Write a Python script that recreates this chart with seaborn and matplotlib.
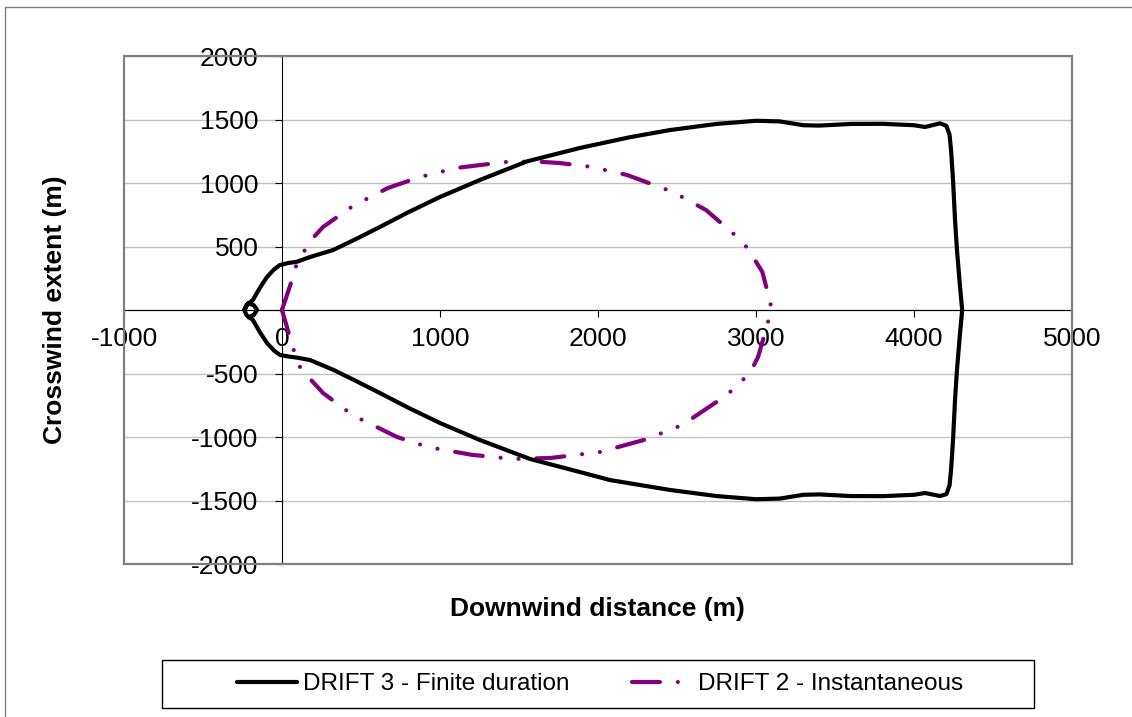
import matplotlib
matplotlib.use("Agg")
import matplotlib.pyplot as plt
import pandas as pd
import seaborn as sns
from matplotlib.patches import Rectangle
from matplotlib.lines import Line2D

# ---------------- data ----------------
series_names = ["DRIFT 3 - Finite duration", "DRIFT 2 - Instantaneous"]
series_colors = ["#000000", "#800080"]

# DRIFT 3 upper edge (from upwind tip to downwind end)
drift3_upper_x = [-238, -225, -184, -140, -95, -50, -13, 40, 95, 177, 323, 470, 620, 800, 1000, 1253, 1550,
                  1886, 2200, 2456, 2750, 3000, 3150, 3300, 3400, 3600, 3800, 4000, 4070, 4165, 4205, 4225,
                  4235, 4247, 4260, 4272, 4290, 4305]
drift3_upper_y = [0, 40, 79, 175, 260, 320, 354, 370, 380, 417, 472, 560, 654, 770, 890, 1024, 1170,
                  1276, 1360, 1417, 1465, 1490, 1485, 1455, 1452, 1465, 1466, 1455, 1441, 1470, 1450, 1380,
                  1250, 1024, 700, 472, 200, 0]
# DRIFT 3 lower edge (from upwind tip to downwind end)
drift3_lower_x = [-238, -225, -184, -140, -95, -50, -13, 40, 95, 177, 323, 470, 620, 800, 1000, 1253, 1570,
                  1886, 2076, 2456, 2750, 3000, 3150, 3300, 3400, 3600, 3800, 4000, 4070, 4165, 4205, 4225,
                  4235, 4247, 4260, 4272, 4290, 4305]
drift3_lower_y = [0, -40, -79, -175, -260, -320, -354, -366, -375, -394, -470, -560, -654, -770, -890, -1024, -1173,
                  -1276, -1339, -1417, -1465, -1490, -1485, -1455, -1452, -1465, -1466, -1455, -1441, -1465, -1450, -1380,
                  -1250, -1024, -700, -472, -200, 0]
# small loop at the upwind tip of DRIFT 3
drift3_loop_x = [-215, -178, -158, -178, -210]
drift3_loop_y = [52, 38, 0, -38, -58]

# DRIFT 2 upper edge
drift2_upper_x = [0, 63, 95, 184, 260, 450, 671, 873, 1101, 1411, 1600, 1759, 1962, 2184, 2475,
                  2684, 2918, 2975, 3040, 3070, 3101]
drift2_upper_y = [0, 236, 370, 551, 654, 820, 961, 1047, 1118, 1165, 1170, 1157, 1126, 1063, 929,
                  787, 535, 430, 300, 157, 0]
# DRIFT 2 lower edge
drift2_lower_x = [0, 70, 114, 184, 260, 450, 728, 924, 1200, 1462, 1700, 2013, 2300, 2532, 2816,
                  2962, 3013, 3044, 3076, 3101]
drift2_lower_y = [0, -300, -449, -551, -654, -830, -1000, -1079, -1140, -1173, -1165, -1118, -1020, -906, -669,
                  -496, -370, -236, -94, 0]

x_ticks = [-1000, 0, 1000, 2000, 3000, 4000, 5000]
y_ticks = [-2000, -1500, -1000, -500, 0, 500, 1000, 1500, 2000]
y_tick_labels = ["-2000", "-1500", "-1000", "-500", "", "500", "1000", "1500", "2000"]
x_label = "Downwind distance (m)"
y_label = "Crosswind extent (m)"

# ---------------- style ----------------
sns.set_theme(style="white")
plt.rcParams["font.family"] = ["Liberation Sans", "DejaVu Sans"]

W, H = 1132, 717
fig = plt.figure(figsize=(W / 100, H / 100), dpi=100, facecolor="white")
ax = fig.add_axes([124 / W, 1 - 564 / H, 948 / W, 508 / H])

d3 = pd.DataFrame({
    "x": drift3_upper_x + drift3_lower_x[::-1] + drift3_loop_x,
    "y": drift3_upper_y + drift3_lower_y[::-1] + drift3_loop_y,
})
d2 = pd.DataFrame({
    "x": drift2_upper_x + drift2_lower_x[::-1],
    "y": drift2_upper_y + drift2_lower_y[::-1],
})

sns.lineplot(data=d3, x="x", y="y", sort=False, estimator=None, color=series_colors[0],
             lw=3, ax=ax, label=series_names[0], zorder=4)
l3 = ax.lines[-1]
l3.set_solid_joinstyle("round")
l3.set_solid_capstyle("round")

sns.lineplot(data=d2, x="x", y="y", sort=False, estimator=None, color=series_colors[1],
             lw=3, ax=ax, label=series_names[1], zorder=3)
l2 = ax.lines[-1]
l2.set_dashes([6.7, 4.3, 0.01, 4.3, 0.01, 4.3])
l2.set_dash_capstyle("round")

ax.set_xlim(-1000, 5000)
ax.set_ylim(-2000, 2000)
ax.set_xticks(x_ticks)
ax.set_xticklabels([str(v) for v in x_ticks])
ax.set_yticks(y_ticks)
ax.set_yticklabels(y_tick_labels)

ax.yaxis.grid(True, color="#c0c0c0", lw=1)
ax.xaxis.grid(False)
ax.set_axisbelow(True)

for s in ["top", "right"]:
    ax.spines[s].set_visible(False)
ax.spines["left"].set_position(("data", 0))
ax.spines["bottom"].set_position(("data", 0))
for s in ["left", "bottom"]:
    ax.spines[s].set_color("black")
    ax.spines[s].set_linewidth(0.8)
    ax.spines[s].set_zorder(2)

ax.tick_params(axis="x", direction="out", length=5, width=0.8, color="black",
               labelsize=19, pad=7, bottom=True, labelcolor="black")
ax.tick_params(axis="y", direction="out", length=5, width=0.8, color="black",
               labelsize=19, pad=12, left=True, labelcolor="black")

# plot area border
ax.add_patch(Rectangle((0, 0), 1, 1, transform=ax.transAxes, fill=False,
                       ec="#808080", lw=1.6, zorder=5, clip_on=False))

ax.set_xlabel(x_label, fontsize=19, fontweight="bold", color="black")
ax.xaxis.set_label_coords(0.499, -0.064)
ax.set_ylabel(y_label, fontsize=19, fontweight="bold", color="black")
ax.yaxis.set_label_coords(-0.060, 0.5)

leg = ax.legend(loc="center", bbox_to_anchor=(600 / W, 1 - 684 / H), bbox_transform=fig.transFigure,
                ncol=2, frameon=False, fontsize=17.5, handlelength=2.45, handletextpad=0.25,
                columnspacing=2.6)
for t in leg.get_texts():
    t.set_color("black")

# legend box
fig.add_artist(Rectangle((162 / W, 1 - 708 / H), (1034 - 162) / W, 48 / H, transform=fig.transFigure,
                         fill=False, ec="black", lw=1))
# outer chart border (left and top visible)
fig.add_artist(Line2D([4.5 / W, 4.5 / W], [0, 1 - 7 / H], transform=fig.transFigure, color="#808080", lw=1))
fig.add_artist(Line2D([4.5 / W, 1], [1 - 7 / H, 1 - 7 / H], transform=fig.transFigure, color="#808080", lw=1))

fig.savefig("out.png", dpi=100, facecolor="white")
